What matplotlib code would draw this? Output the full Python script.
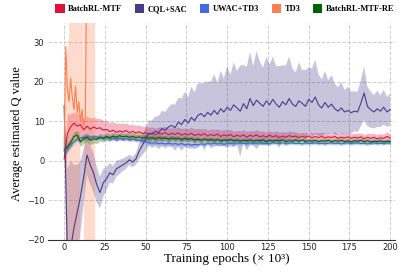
import matplotlib.pyplot as plt
from matplotlib.patches import Patch
import numpy as np

# training epochs (x 10^3), shared by the long runs
epochs = list(range(0, 201, 2))

# BatchRL-MTF
mtf_mean = [0.5, 7.0, 8.6, 9.6, 8.8, 9.2, 7.9, 8.8, 8.0, 8.6, 8.2, 8.4, 7.8, 8.0, 7.4, 7.8, 7.2, 7.6, 7.3, 7.7,
            7.1, 7.5, 7.0, 7.4, 6.9, 7.2, 6.7, 7.1, 6.6, 7.0, 6.8, 7.2, 6.6, 7.0, 6.7, 7.1, 6.5, 6.9, 6.6, 7.0,
            6.4, 6.8, 6.5, 6.9, 6.3, 6.7, 6.4, 6.8, 6.2, 6.6, 6.3, 6.7, 6.1, 6.5, 6.2, 6.6, 6.0, 6.5, 6.2, 6.6,
            6.1, 6.4, 6.0, 6.5, 6.1, 6.4, 5.9, 6.3, 6.0, 6.4, 6.1, 6.3, 5.9, 6.2, 6.0, 6.3, 5.8, 6.2, 5.9, 6.2,
            5.8, 6.1, 5.9, 6.2, 5.7, 6.0, 5.8, 6.1, 5.7, 6.0, 5.8, 6.1, 5.6, 6.0, 5.7, 6.0, 5.6, 5.9, 5.7, 6.2,
            5.8]
mtf_spread = [0.3, 5.0, 3.2, 2.8, 3.0, 2.7, 2.9, 2.6, 2.8, 2.5, 2.6, 2.3, 2.5, 2.2, 2.4, 2.1, 2.3, 2.0, 2.2, 1.9,
              2.1, 1.8, 2.0, 1.7, 1.9, 1.6, 1.8, 1.5, 1.7, 1.6, 1.8, 1.5, 1.7, 1.4, 1.6, 1.5, 1.7, 1.4, 1.6, 1.5,
              1.7, 1.4, 1.6, 1.3, 1.5, 1.4, 1.6, 1.3, 1.5, 1.4, 1.5, 1.3, 1.4, 1.2, 1.4, 1.3, 1.5, 1.2, 1.4, 1.3,
              1.4, 1.2, 1.3, 1.1, 1.3, 1.2, 1.4, 1.1, 1.3, 1.2, 1.3, 1.1, 1.2, 1.0, 1.2, 1.1, 1.3, 1.0, 1.2, 1.1,
              1.2, 1.0, 1.1, 1.2, 1.0, 1.1, 1.2, 1.0, 1.1, 1.0, 1.2, 1.0, 1.1, 1.0, 1.2, 1.0, 1.1, 1.0, 1.1, 1.2,
              1.0]

# CQL+SAC
cql_mean = [14.0, -24.0, -22.0, -17.0, -13.0, -9.0, -4.0, 1.5, -1.0, -3.0, -6.0, -8.0, -5.5, -4.5, -3.0, -3.5,
            -2.0, -1.5, -1.0, -0.5, 0.3, -0.3, 0.5, 2.5, 4.0, 5.5, 7.0, 6.8, 7.5, 7.2, 8.2, 7.8, 8.6, 9.0, 8.4,
            9.8, 9.2, 10.5, 9.6, 11.0, 10.2, 11.5, 12.0, 11.2, 12.3, 11.6, 12.8, 11.8, 13.2, 12.4, 13.6, 12.8,
            14.2, 13.4, 12.6, 14.5, 13.2, 15.8, 14.0, 15.4, 14.6, 13.8, 15.2, 14.2, 15.6, 14.4, 13.6, 15.0, 14.2,
            15.8, 14.4, 13.8, 15.2, 14.6, 13.8, 15.6, 14.8, 16.2, 14.2, 13.4, 14.8, 13.6, 14.4, 13.2, 12.6, 13.4,
            12.4, 12.8, 12.2, 12.6, 12.4, 14.6, 17.2, 13.8, 13.0, 12.4, 13.2, 12.6, 13.6, 12.4, 13.0]
cql_spread = [0.5, 22.0, 22.0, 16.0, 12.0, 9.0, 7.0, 5.0, 5.0, 5.0, 4.5, 4.0, 3.5, 3.0, 2.5, 2.2, 2.0, 1.8, 1.6,
              1.5, 1.3, 1.3, 1.5, 2.0, 2.5, 3.0, 3.2, 3.5, 3.8, 4.2, 4.5, 4.6, 5.0, 5.4, 5.8, 6.2, 6.6, 7.0, 6.5,
              7.8, 7.2, 8.2, 7.6, 8.6, 7.8, 8.4, 9.2, 8.0, 9.6, 8.6, 10.4, 9.0, 10.8, 9.4, 11.5, 9.8, 10.6, 11.8,
              10.0, 12.4, 10.6, 9.8, 11.2, 10.2, 10.8, 9.6, 10.4, 9.2, 10.0, 10.6, 9.0, 8.6, 9.8, 8.4, 9.2, 8.0,
              8.6, 9.4, 7.8, 7.2, 8.0, 6.8, 7.4, 6.4, 6.0, 6.6, 5.6, 6.0, 5.4, 5.0, 5.2, 5.8, 6.8, 5.0, 4.6, 4.2,
              4.6, 4.0, 4.4, 3.8, 4.0]

# UWAC+TD3
uwac_mean = [2.4, 3.2, 4.0, 4.8, 5.5, 5.8, 6.0, 6.1, 6.0, 6.1, 6.0, 5.9, 5.8, 5.9, 5.7, 5.8, 5.6, 5.7, 5.5, 5.6,
             5.4, 5.5, 5.3, 5.2, 5.0, 4.8, 4.6, 4.5, 4.6, 4.4, 4.5, 4.3, 4.5, 4.3, 4.4, 4.2, 4.4, 4.1, 4.3, 4.0,
             4.2, 4.1, 4.3, 4.2, 4.4, 4.3, 4.5, 4.3, 4.4, 4.2, 4.4, 4.5, 4.3, 4.6, 4.4, 4.5, 4.3, 4.6, 4.4, 4.5,
             4.6, 4.4, 4.5, 4.3, 4.6, 4.5, 4.4, 4.6, 4.3, 4.5, 4.6, 4.4, 4.5, 4.3, 4.6, 4.4, 4.5, 4.6, 4.4, 4.5,
             4.3, 4.5, 4.6, 4.4, 4.5, 4.3, 4.5, 4.6, 4.4, 4.5, 4.6, 4.4, 4.5, 4.3, 4.5, 4.6, 4.4, 4.5, 4.4, 4.6,
             4.5]
uwac_spread = [0.8, 0.8, 0.7, 0.7, 0.6, 0.6, 0.6, 0.5, 0.6, 0.5, 0.5, 0.5, 0.5, 0.5, 0.5, 0.5, 0.5, 0.5, 0.4, 0.5,
               0.4, 0.5, 0.4, 0.5, 0.4, 0.5, 0.4, 0.4, 0.4, 0.4, 0.4, 0.4, 0.4, 0.4, 0.4, 0.4, 0.4, 0.4, 0.4, 0.4,
               0.4, 0.4, 0.4, 0.4, 0.4, 0.4, 0.4, 0.4, 0.4, 0.4, 0.4, 0.4, 0.4, 0.4, 0.4, 0.4, 0.4, 0.4, 0.4, 0.4,
               0.4, 0.4, 0.4, 0.4, 0.4, 0.4, 0.4, 0.4, 0.4, 0.4, 0.4, 0.4, 0.4, 0.4, 0.4, 0.4, 0.4, 0.4, 0.4, 0.4,
               0.4, 0.4, 0.4, 0.4, 0.4, 0.4, 0.4, 0.4, 0.4, 0.4, 0.4, 0.4, 0.4, 0.4, 0.4, 0.4, 0.4, 0.4, 0.4, 0.4,
               0.4]

# BatchRL-MTF-RE
re_mean = [2.8, 3.6, 4.6, 6.2, 6.5, 4.8, 5.6, 6.0, 5.2, 5.6, 5.4, 6.0, 5.7, 6.2, 5.9, 6.3, 6.0, 6.4, 6.1, 6.3,
           6.0, 6.2, 5.9, 6.1, 5.8, 6.0, 5.7, 5.9, 5.6, 5.9, 5.7, 5.8, 5.5, 5.8, 5.6, 5.7, 5.4, 5.7, 5.5, 5.6,
           5.3, 5.5, 5.2, 5.5, 5.3, 5.4, 5.2, 5.4, 5.1, 5.3, 5.2, 5.4, 5.1, 5.3, 5.0, 5.2, 5.1, 5.3, 5.0, 5.2,
           5.1, 5.3, 4.9, 5.2, 5.0, 5.2, 5.1, 5.3, 4.9, 5.1, 5.0, 5.2, 5.0, 5.3, 4.9, 5.1, 5.0, 5.2, 4.9, 5.1,
           5.0, 5.2, 4.9, 5.1, 5.0, 5.2, 4.9, 5.1, 4.8, 5.1, 5.0, 5.2, 4.9, 5.1, 4.8, 5.0, 4.9, 5.1, 4.8, 5.0,
           4.9]
re_spread = [1.2, 1.2, 1.2, 1.1, 1.2, 1.1, 1.1, 1.0, 1.1, 1.0, 1.0, 1.0, 0.9, 1.0, 0.9, 0.9, 0.9, 0.8, 0.9, 0.8,
             0.9, 0.8, 0.8, 0.8, 0.8, 0.8, 0.7, 0.8, 0.7, 0.8, 0.7, 0.7, 0.7, 0.7, 0.7, 0.7, 0.6, 0.7, 0.6, 0.7,
             0.6, 0.6, 0.6, 0.6, 0.6, 0.6, 0.6, 0.6, 0.6, 0.6, 0.6, 0.6, 0.6, 0.6, 0.6, 0.6, 0.6, 0.6, 0.6, 0.6,
             0.6, 0.6, 0.6, 0.6, 0.6, 0.6, 0.6, 0.6, 0.6, 0.6, 0.6, 0.6, 0.6, 0.6, 0.6, 0.6, 0.6, 0.6, 0.6, 0.6,
             0.6, 0.6, 0.6, 0.6, 0.6, 0.6, 0.6, 0.6, 0.6, 0.6, 0.6, 0.6, 0.6, 0.6, 0.6, 0.6, 0.6, 0.6, 0.6, 0.6,
             0.6]

# TD3 only runs for the first ~19k epochs before blowing up
td3_epochs = list(range(0, 20))
td3_mean = [3.0, 29.0, 18.0, 15.0, 21.0, 16.0, 13.0, 19.0, 12.0, 15.0, 10.0, 13.0, 9.0, 11.0, 60.0, 90.0,
            120.0, 150.0, 180.0, 200.0]
td3_low = [0.0, -5.0, -200.0, -200.0, -200.0, -200.0, -200.0, -200.0, -200.0, -200.0, 5.0, 6.0, 8.0, -200.0,
           -200.0, -200.0, -200.0, -200.0, -200.0, -200.0]
td3_high = [5.0, 25.0, 28.0, 32.0, 200.0, 200.0, 200.0, 200.0, 200.0, 200.0, 200.0, 200.0, 8.0, 200.0,
            200.0, 200.0, 200.0, 200.0, 200.0, 200.0]

labels = ["BatchRL-MTF", "CQL+SAC", "UWAC+TD3", "TD3", "BatchRL-MTF-RE"]
colors = ["#DC143C", "#483D8B", "#4169E1", "#FF7F50", "#006400"]

fig = plt.figure(figsize=(4.09, 2.73), dpi=100)
ax = fig.add_axes([0.117, 0.121, 0.849, 0.796])

runs = [(mtf_mean, mtf_spread), (cql_mean, cql_spread), (uwac_mean, uwac_spread)]
for (mean, spread), color in zip(runs, colors[:3]):
    m = np.array(mean)
    s = np.array(spread)
    ax.fill_between(epochs, m - s, m + s, color=color, alpha=0.3, linewidth=0)
    ax.plot(epochs, m, color=color, linewidth=0.8)

# TD3
ax.fill_between(td3_epochs, td3_low, td3_high, color=colors[3], alpha=0.28, linewidth=0)
ax.plot(td3_epochs, td3_mean, color=colors[3], linewidth=0.8)

# BatchRL-MTF-RE
m = np.array(re_mean)
s = np.array(re_spread)
ax.fill_between(epochs, m - s, m + s, color=colors[4], alpha=0.3, linewidth=0)
ax.plot(epochs, m, color=colors[4], linewidth=0.8)

ax.set_xlim(-10, 203)
ax.set_ylim(-20, 35)
ax.set_xticks(range(0, 201, 25))
ax.set_yticks(range(-20, 31, 10))
ax.grid(True, linestyle="--", color="#cccccc", linewidth=0.7)
ax.set_axisbelow(True)
for side in ["top", "right", "left"]:
    ax.spines[side].set_visible(False)
ax.spines["bottom"].set_color("#333333")
ax.tick_params(length=0, labelsize=6, pad=2.5, colors="#222222")

# label positions as in the reference (slightly off-centre)
ax.set_xlabel("Training epochs (× 10³)", family="Liberation Serif", fontsize=9.5)
ax.set_ylabel("Average estimated Q value", family="Liberation Serif", fontsize=9)
ax.xaxis.set_label_coords(0.515, -0.062)
ax.yaxis.set_label_coords(-0.072, 0.488)

handles = [Patch(facecolor=c, edgecolor="none") for c in colors]
fig.legend(handles, labels, loc="center", bbox_to_anchor=(0.55, 0.968), ncol=5, frameon=False,
           prop={"family": "Liberation Serif", "weight": "bold", "size": 6},
           handlelength=1.1, handleheight=1.2, handletextpad=0.45, columnspacing=1.5)

plt.savefig("out.png", dpi=100)
